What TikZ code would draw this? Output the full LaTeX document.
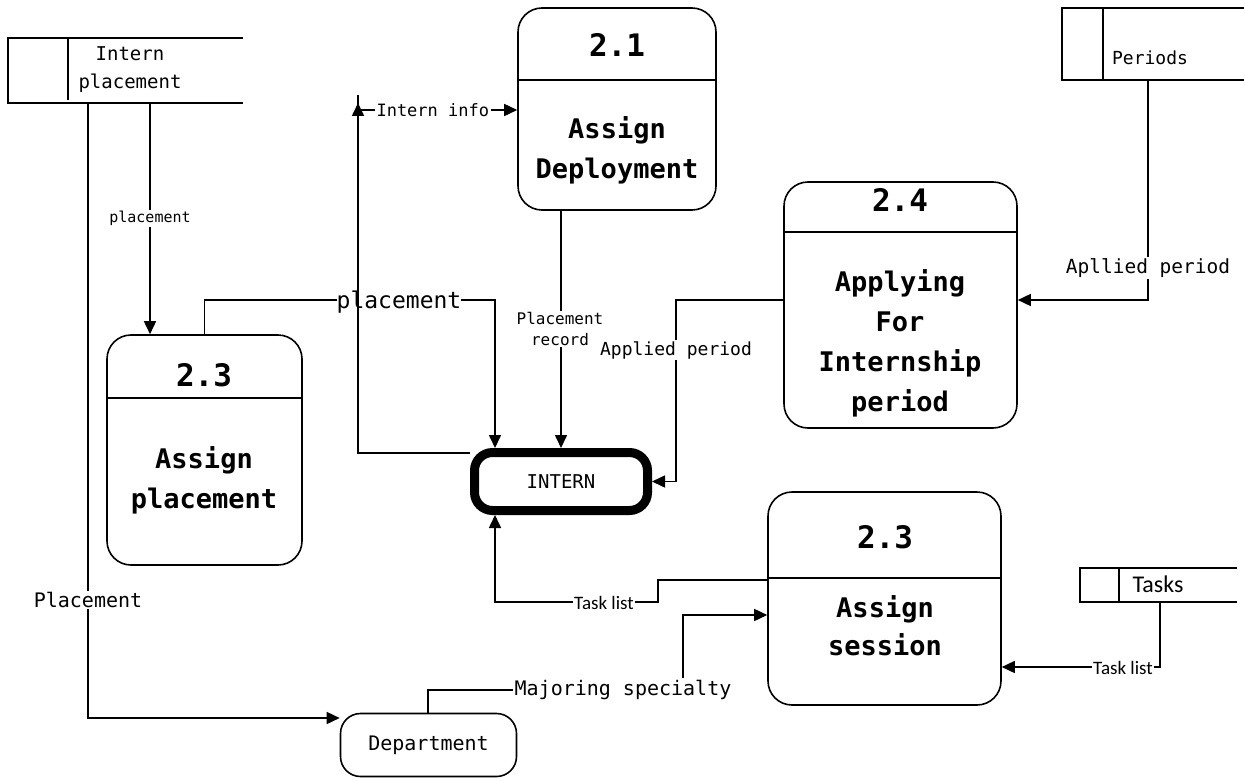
\documentclass[tikz,border=0pt]{standalone}
\usepackage{fontspec}
\setmonofont{DejaVu Sans Mono}
\newfontfamily\calib{Carlito}
\usetikzlibrary{arrows.meta,calc}

\tikzset{
  proc/.style={draw,line width=1.6pt,rounded corners=24pt,inner sep=0pt},
  head/.style={font=\ttfamily\bfseries\fontsize{31pt}{36pt}\selectfont},
  body/.style={align=center,font=\ttfamily\bfseries\fontsize{27pt}{40pt}\selectfont},
  wire/.style={line width=1.6pt},
  flow/.style={line width=1.6pt,-{Triangle[length=13pt,width=12pt]}},
  lbl/.style={fill=white,inner sep=1.5pt,font=\ttfamily\fontsize{#1}{#1}\selectfont},
  lbl/.default=17pt,
  store/.style={font=\ttfamily\fontsize{19pt}{28pt}\selectfont,align=center},
}

\begin{document}
\begin{tikzpicture}[x=1pt,y=-1pt]
  \useasboundingbox[fill=white] (0,0) rectangle (1244,781);

  % ---- processes ----
  \node[proc,minimum width=198pt,minimum height=202pt] (p21) at (617,109) {};
  \draw[wire] (p21.west |- 0,80) -- (p21.east |- 0,80);
  \node[head] (h21) at (617,45) {2.1};
  \node[body] (b21) at (617,150) {Assign\\Deployment};

  \node[proc,minimum width=233pt,minimum height=246pt] (p24) at (900.5,305) {};
  \draw[wire] (p24.west |- 0,232) -- (p24.east |- 0,232);
  \node[head] (h24) at (900,200) {2.4};
  \node[body] (b24) at (900,343) {Applying\\For\\Internship\\period};

  \node[proc,minimum width=195pt,minimum height=230pt] (p23) at (204.5,450) {};
  \draw[wire] (p23.west |- 0,398) -- (p23.east |- 0,398);
  \node[head] (h23) at (204,375) {2.3};
  \node[body] (b23) at (204,480) {Assign\\placement};

  \node[proc,minimum width=233pt,minimum height=213pt] (p23b) at (884.5,598.5) {};
  \draw[wire] (p23b.west |- 0,578) -- (p23b.east |- 0,578);
  \node[head] (h23b) at (885,537) {2.3};
  \node[body,font=\ttfamily\bfseries\fontsize{27pt}{38pt}\selectfont] (b23b) at (885,626) {Assign\\session};

  % ---- external entities ----
  \node[draw,line width=9pt,rounded corners=18pt,minimum width=173pt,minimum height=58pt,
        font=\ttfamily\fontsize{19pt}{22pt}\selectfont] (intern) at (561,481.5) {INTERN};
  \node[draw,line width=1.6pt,rounded corners=20pt,minimum width=176pt,minimum height=63pt,
        font=\ttfamily\fontsize{20pt}{24pt}\selectfont] (dept) at (428.5,745) {Department};

  % ---- data stores ----
  \draw[wire] (243,38) -- (8,38) -- (8,103) -- (243,103);
  \draw[wire] (68,38) -- (68,100);
  \node[store] (ip) at (130,70) {Intern\\placement};
  \coordinate (ipA) at (150,103);
  \coordinate (ipB) at (88,103);

  \draw[wire] (1244,8) -- (1062,8) -- (1062,80) -- (1244,80);
  \draw[wire] (1103,8) -- (1103,80);
  \node[font=\ttfamily\fontsize{18pt}{22pt}\selectfont] (per) at (1150,58) {Periods};
  \coordinate (perA) at (1148,80);

  \draw[wire] (1237,568) -- (1080,568) -- (1080,602) -- (1237,602);
  \draw[wire] (1119,568) -- (1119,602);
  \node[font=\calib\fontsize{24pt}{28pt}\selectfont] (tsk) at (1158,584) {Tasks};
  \coordinate (tskA) at (1160,602);

  % ---- flows ----
  \draw[flow] (ipA) -- (ipA |- p23.north)
    node[lbl=15pt,pos=0.5] {placement};

  \draw[flow] (ipB) -- (88,718) -- (dept.west |- 0,718);
  \node[lbl=20pt] at (88,600) {Placement};

  \draw[flow] (p23.north) -- (204.5,300) -- (495,300) -- (495,0 |- intern.north);
  \node[lbl=23pt,inner sep=0pt] at (399,302) {placement};

  \draw[wire] (intern.west |- 0,453) -- (358,453) -- (358,95);
  \draw[flow] (358,122) -- (358,103);
  \draw[flow] (358,110) -- (p21.west |- 0,110)
    node[lbl,pos=0.47] {Intern info};

  \draw[flow] (561,0 |- p21.south) -- (561,0 |- intern.north);
  \node[lbl=16pt,align=center,font=\ttfamily\fontsize{16pt}{21pt}\selectfont] at (560,329) {Placement\\record};

  \draw[flow] (p24.west |- 0,300) -- (676,300) -- (676,0 |- intern.east) -- (intern.east);
  \node[lbl=18pt] at (676,350) {Applied period};

  \draw[flow] (perA) -- (1148,300) -- (p24.east |- 0,300);
  \node[lbl=19.5pt] at (1148,268) {Apllied period};

  \draw[flow] (p23b.west |- 0,580) -- (658,580) -- (658,602) -- (495,602) -- (495,0 |- intern.south);
  \node[fill=white,inner sep=1pt,font=\calib\fontsize{19pt}{22pt}\selectfont] at (604,603) {Task list};

  \draw[flow] (428,0 |- dept.north) -- (428,690) -- (683,690) -- (683,615) -- (p23b.west |- 0,615);
  \node[lbl=20pt,inner sep=2pt] at (623,690) {Majoring specialty};

  \draw[flow] (tskA) -- (1160,667) -- (p23b.east |- 0,667);
  \node[fill=white,inner sep=1pt,font=\calib\fontsize{19pt}{22pt}\selectfont] at (1123,668) {Task list};
\end{tikzpicture}
\end{document}
